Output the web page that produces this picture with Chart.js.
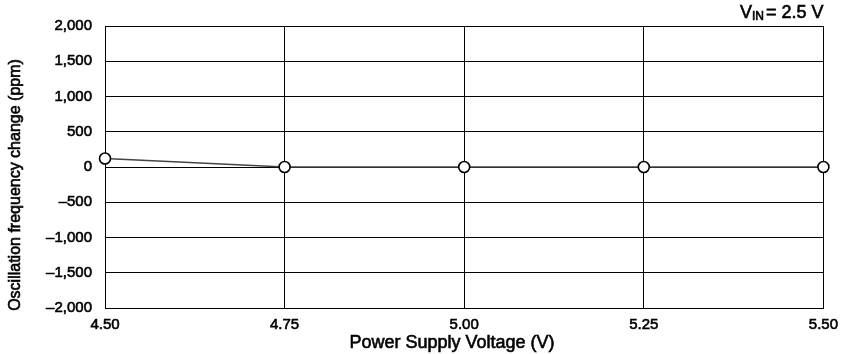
<!DOCTYPE html>
<html>
<head>
<meta charset="utf-8">
<script src="https://cdn.jsdelivr.net/npm/chart.js@4"></script>
<style>
  html, body { margin: 0; padding: 0; background: #fff; }
  #wrap { width: 846px; height: 354px; }
</style>
</head>
<body>
<div id="wrap"><canvas id="chart"></canvas></div>
<script>
// chart data
var supplyVoltage = [4.50, 4.75, 5.00, 5.25, 5.50];
var freqChange = [120, 0, 0, 0, 0];
var xTicks = [4.50, 4.75, 5.00, 5.25, 5.50];
var yTicks = [-2000, -1500, -1000, -500, 0, 500, 1000, 1500, 2000];

var xTitle = 'Power Supply Voltage (V)';
var yTitle = 'Oscillation frequency change (ppm)';

var FONT = '"Liberation Sans", Arial, Helvetica, sans-serif';
var STROKE = 0.6; // slight thickening, like the printed scan

function fmtY(v) {
  var s = Math.abs(v).toLocaleString('en-US');
  return v < 0 ? '\u2013' + s : s;
}

function drawText(ctx, txt, x, y) {
  ctx.fillText(txt, x, y);
  ctx.strokeText(txt, x, y);
}

// axis titles and the V_IN note
var labelsPlugin = {
  id: 'labels',
  afterDraw: function (chart) {
    var ctx = chart.ctx;
    ctx.save();
    ctx.fillStyle = '#000';
    ctx.strokeStyle = '#000';
    ctx.lineWidth = STROKE;
    ctx.textBaseline = 'alphabetic';

    // x title
    ctx.font = '18px ' + FONT;
    ctx.textAlign = 'center';
    drawText(ctx, xTitle, 452, 348);

    // y title
    ctx.save();
    ctx.font = '16px ' + FONT;
    ctx.translate(20, 185);
    ctx.rotate(-Math.PI / 2);
    drawText(ctx, yTitle, 0, 0);
    ctx.restore();

    // V_IN = 2.5 V
    ctx.textAlign = 'left';
    var x = 740, y = 18;
    ctx.font = '18px ' + FONT;
    drawText(ctx, 'V', x, y);
    x += ctx.measureText('V').width;
    ctx.font = '12px ' + FONT;
    drawText(ctx, 'IN', x, y + 2);
    x += ctx.measureText('IN').width + 2;
    ctx.font = '18px ' + FONT;
    drawText(ctx, '= 2.5 V', x, y);
    ctx.restore();
  }
};

new Chart(document.getElementById('chart'), {
  type: 'line',
  data: {
    datasets: [{
      data: supplyVoltage.map(function (v, i) { return { x: v, y: freqChange[i] }; }),
      borderColor: '#444',
      borderWidth: 1.5,
      pointRadius: 5.5,
      pointBorderWidth: 1.6,
      pointBorderColor: '#000',
      pointBackgroundColor: '#fff',
      lineTension: 0,
      fill: false,
      clip: false
    }]
  },
  options: {
    responsive: true,
    maintainAspectRatio: false,
    animation: false,
    layout: { padding: { top: 26, right: 20, left: 0, bottom: 0 } },
    plugins: {
      legend: { display: false },
      tooltip: { enabled: false }
    },
    scales: {
      x: {
        type: 'linear',
        min: 4.5,
        max: 5.5,
        afterBuildTicks: function (scale) {
          scale.ticks = xTicks.map(function (v) { return { value: v }; });
        },
        afterFit: function (scale) { scale.height = 46; },
        ticks: {
          color: '#000',
          textStrokeColor: '#000',
          textStrokeWidth: STROKE,
          font: { family: FONT, size: 15 },
          padding: 8,
          maxRotation: 0,
          callback: function (v) { return Number(v).toFixed(2); }
        },
        grid: { color: '#000', lineWidth: 1, drawTicks: false },
        border: { color: '#000', width: 1 }
      },
      y: {
        min: -2000,
        max: 2000,
        afterBuildTicks: function (scale) {
          scale.ticks = yTicks.map(function (v) { return { value: v }; });
        },
        afterFit: function (scale) { scale.width = 105; },
        ticks: {
          color: '#000',
          textStrokeColor: '#000',
          textStrokeWidth: STROKE,
          font: { family: FONT, size: 15 },
          padding: 13,
          callback: function (v) { return fmtY(v); }
        },
        grid: { color: '#000', lineWidth: 1, drawTicks: false },
        border: { color: '#000', width: 1 }
      }
    }
  },
  plugins: [labelsPlugin]
});
</script>
</body>
</html>
